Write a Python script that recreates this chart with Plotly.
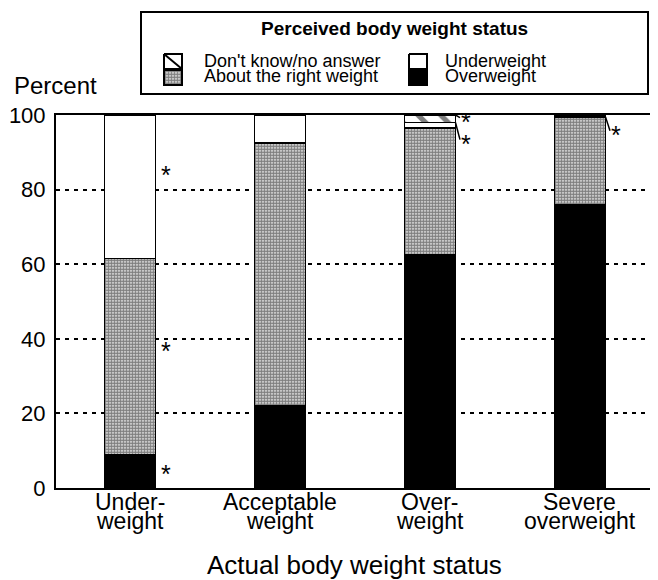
import plotly.graph_objects as go

# ---------------- data ----------------
categories = ["Underweight", "Acceptable weight", "Overweight", "Severe overweight"]
label_line1 = ["Under-", "Acceptable", "Over-", "Severe"]
label_line2 = ["weight", "weight", "weight", "overweight"]
overweight = [9, 22, 62.5, 76]
about_right = [52.5, 70.5, 34, 23.5]
underweight = [38.5, 7.5, 1.5, 0.5]
dont_know = [0, 0, 2, 0]
y_ticks = [0, 20, 40, 60, 80, 100]
# significance asterisks: category index, y value, leader-line start (segment top) or None
star_cat = [0, 0, 0, 2, 2, 3]
star_y = [84.5, 37.5, 4.3, 98.7, 92.8, 95.2]
star_from = [None, None, None, 100, 98, 99.5]

# ---------------- layout helpers (positions in window pixels) ----------------
FONT = "Liberation Sans, Arial, Helvetica, sans-serif"
OFF = 8                      # page body margin around the figure
W, H = 650, 572
ML, MR, MT, MB = 48, 6, 2, 92
PW = W - ML - MR
PH = H - MT - MB


def px(p):
    return (p - OFF - ML) / PW


def py(p):
    return (H - MB - (p - OFF)) / PH


PLOT_TOP = 115
BAR_W = 0.34
STAR_DX = 0.237

fig = go.Figure()

stipple = dict(shape=".", fgcolor="black", bgcolor="white", size=3, solidity=0.78)
hatch = dict(shape="\\", fgcolor="black", bgcolor="white", size=16, solidity=0.32)
edge = dict(color="black", width=1.5)

series = [
    ("Overweight", overweight, dict(color="black", line=edge)),
    ("About the right weight", about_right, dict(color="white", pattern=stipple, line=edge)),
    ("Underweight", underweight, dict(color="white", line=edge)),
    ("Don't know/no answer", dont_know, dict(color="white", pattern=hatch, line=edge)),
]
for name, vals, marker in series:
    fig.add_trace(go.Bar(x=categories, y=vals, name=name, marker=marker,
                         width=BAR_W, showlegend=False, hoverinfo="skip"))

# ---------------- legend (drawn in window-pixel coordinates on x2/y2) ----------------
def sym(x0, x1, y0, y1, fillcolor="white", pattern=None):
    kw = dict(x=[x0, x1, x1, x0, x0], y=[y0, y0, y1, y1, y0], fill="toself",
              mode="lines", line=dict(color="black", width=2), fillcolor=fillcolor,
              xaxis="x2", yaxis="y2", hoverinfo="skip", showlegend=False)
    if pattern is not None:
        kw["fillpattern"] = pattern
    return go.Scatter(**kw)


C1X0, C1X1 = 164, 182
C2X0, C2X1 = 409, 427
R1Y0, R1Y1 = 54, 69
R2Y0, R2Y1 = 70, 85
fig.add_trace(sym(C1X0, C1X1, R1Y0, R1Y1))
fig.add_trace(go.Scatter(x=[C1X0, C1X1], y=[R1Y0, R1Y1], mode="lines",
                         line=dict(color="black", width=2), xaxis="x2", yaxis="y2",
                         hoverinfo="skip", showlegend=False))
fig.add_trace(sym(C1X0, C1X1, R2Y0, R2Y1, pattern=dict(shape=".", fgcolor="black",
                                                        bgcolor="white", size=3, solidity=0.78)))
fig.add_trace(sym(C2X0, C2X1, R1Y0, R1Y1))
fig.add_trace(sym(C2X0, C2X1, R2Y0, R2Y1, fillcolor="black"))

shapes = [
    dict(type="rect", xref="x2", yref="y2", x0=141, x1=648, y0=12, y1=94,
         line=dict(color="black", width=2), fillcolor="rgba(0,0,0,0)", layer="above"),
]

annotations = [
    dict(text="<b>Perceived body weight status</b>", xref="x2", yref="y2", x=394, y=28,
         showarrow=False, font=dict(size=19, family=FONT, color="black"),
         xanchor="center", yanchor="middle"),
]
leg_text = [("Don't know/no answer", 202, 61), ("About the right weight", 202, 76),
            ("Underweight", 443, 61), ("Overweight", 443, 76)]
for t, x, y in leg_text:
    annotations.append(dict(text=t, xref="x2", yref="y2", x=x, y=y, showarrow=False,
                            font=dict(size=18, family=FONT, color="black"),
                            xanchor="left", yanchor="middle"))

# ---------------- category labels & axis titles ----------------
for i in range(len(categories)):
    annotations.append(dict(text=label_line1[i], xref="x", yref="paper", x=i, y=py(502),
                            showarrow=False, font=dict(size=23, family=FONT, color="black"),
                            xanchor="center", yanchor="middle"))
    annotations.append(dict(text=label_line2[i], xref="x", yref="paper", x=i, y=py(521),
                            showarrow=False, font=dict(size=23, family=FONT, color="black"),
                            xanchor="center", yanchor="middle"))
annotations.append(dict(text="Actual body weight status", xref="paper", yref="paper",
                        x=0.5, y=py(565), showarrow=False,
                        font=dict(size=26, family=FONT, color="black"),
                        xanchor="center", yanchor="middle"))
annotations.append(dict(text="Percent", xref="paper", yref="paper", x=px(12), y=py(85),
                        showarrow=False, font=dict(size=24, family=FONT, color="black"),
                        xanchor="left", yanchor="middle"))

# ---------------- asterisks ----------------
for c, y, f in zip(star_cat, star_y, star_from):
    annotations.append(dict(text="*", xref="x", yref="y", x=c + STAR_DX, y=y,
                            showarrow=False, font=dict(size=25, family=FONT, color="black"),
                            xanchor="center", yanchor="middle", yshift=-2.5))
    if f is not None:
        shapes.append(dict(type="line", xref="x", yref="y", x0=c + BAR_W / 2, y0=f,
                           x1=c + BAR_W / 2 + 0.03, y1=y + 0.6,
                           line=dict(color="black", width=1.5)))

fig.update_layout(
    width=W, height=H,
    margin=dict(l=ML, r=MR, t=MT, b=MB, autoexpand=False),
    barmode="stack",
    plot_bgcolor="white", paper_bgcolor="white",
    font=dict(family=FONT, color="black"),
    showlegend=False,
    xaxis=dict(type="category", range=[-0.493, 3.48], showticklabels=False,
               showline=True, mirror=True, linecolor="black", linewidth=2,
               showgrid=False, ticks="", zeroline=False, domain=[0, 1]),
    yaxis=dict(domain=[0, py(PLOT_TOP)], range=[0, 100], tickvals=y_ticks,
               showgrid=True, gridcolor="black", gridwidth=2, griddash="4px,5px",
               showline=True, mirror=True, linecolor="black", linewidth=2,
               ticks="", zeroline=False, ticklabelstandoff=4,
               tickfont=dict(size=22, family=FONT, color="black")),
    xaxis2=dict(domain=[0, 1], range=[OFF + ML, OFF + ML + PW], anchor="y2", visible=False),
    yaxis2=dict(domain=[0.8, 1.0], range=[OFF + H - MB - 0.8 * PH, OFF + MT],
                anchor="x2", visible=False),
    shapes=shapes,
    annotations=annotations,
)

fig.write_html("out.html")
